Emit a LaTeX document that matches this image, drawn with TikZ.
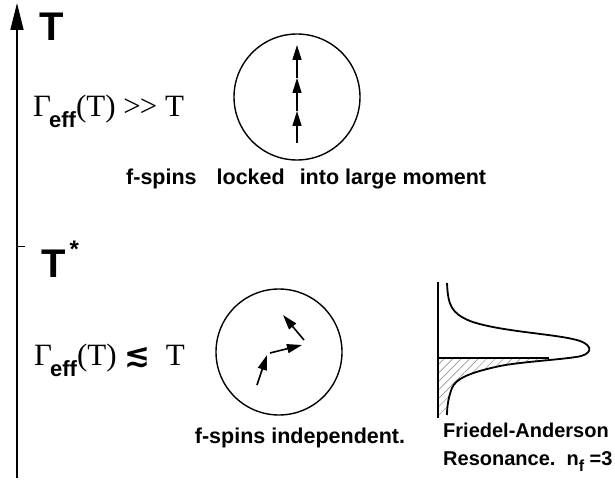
\documentclass[tikz,border=0pt]{standalone}
\usepackage{fontspec}
\setmainfont{Liberation Serif}
\setsansfont{Liberation Sans}
\newfontfamily\dejavu{DejaVu Sans}
\usepackage{tikz}
\usetikzlibrary{arrows.meta, patterns.meta, positioning}
\tikzstyle{taxis} = [line width=1.6pt, -{Triangle[length=27pt,width=13pt]}]
\tikzstyle{spin} = [line width=1.6pt, -{Triangle[length=15pt,width=9pt]}]
\tikzstyle{ball} = [circle, draw, line width=1.4pt, minimum size=126pt, inner sep=0pt]
\tikzstyle{spintext} = [font=\sffamily\bfseries\fontsize{21.5}{28}\selectfont, inner sep=0pt]
\tikzstyle{bigT} = [font=\sffamily\bfseries\fontsize{40}{44}\selectfont, inner sep=0pt]
\tikzstyle{gam} = [font=\rmfamily\fontsize{31}{34}\selectfont, inner sep=0pt]
\tikzstyle{dos} = [line width=1.8pt]
\newcommand\eff{\kern-2pt\raisebox{-11pt}{\sffamily\bfseries\fontsize{22}{24}\selectfont eff}}

\begin{document}
\begin{tikzpicture}[x=1pt, y=-1pt]
  \useasboundingbox (0,0) rectangle (615,489);

  \coordinate (axBot) at (17,478);
  \coordinate (axTop) at (17,3);
  \coordinate (tick) at (17,246);
  \draw[taxis] (axBot) -- (axTop);
  \draw[line width=1pt] (tick) -- ++(8,0);

  \node[bigT, anchor=base west] (tHigh) at (39,41) {T};
  \node[gam, anchor=base west] (gamHigh) at (33,117) {Γ\eff(T) {>}\kern-1pt{>} T};
  \node[ball] (ballHigh) at (297,97) {};
  \coordinate (s0) at (297,143);
  \coordinate (s1) at (297,111);
  \coordinate (s2) at (297,78);
  \coordinate (s3) at (297,45);
  \draw[spin] (s0) -- (s1);
  \draw[spin] (s1) -- (s2);
  \draw[spin] (s2) -- (s3);
  \node[spintext, anchor=base west] (lockTxt) at (126,185) {f-spins\hspace{20pt}locked\hspace{15pt}into large moment};

  \node[bigT, anchor=base west] (tStar) at (41,277) {T\hspace{4pt}\raisebox{20pt}{\fontsize{24}{24}\selectfont *}};
  \node[gam, anchor=base west] (gamLow) at (34,365) {Γ\eff(T) {\dejavu\bfseries ≲}\ \ T};
  \node[ball] (ballLow) at (279,352) {};
  \coordinate (a0) at (257,385);
  \coordinate (a1) at (267,355);
  \coordinate (b0) at (270,353);
  \coordinate (b1) at (302,345);
  \coordinate (c0) at (304,340);
  \coordinate (c1) at (283,315);
  \draw[spin] (a0) -- (a1);
  \draw[spin] (b0) -- (b1);
  \draw[spin] (c0) -- (c1);
  \node[spintext, anchor=base] (indepTxt) at (300,443) {f-spins independent.};

  \coordinate (dosTop) at (438,282);
  \coordinate (dosBot) at (438,418);
  \coordinate (fermiL) at (438,358);
  \coordinate (fermiR) at (549,358);
  \fill[pattern={Lines[angle=45,distance=6pt,line width=0.5pt]}, pattern color=gray]
    (fermiL) -- (552,359) .. controls (528,362) .. (500,366) .. controls (472,372) and (456,378) .. (452,388)
    .. controls (448,398) and (447,408) .. (447,415) -- (dosBot) -- cycle;
  \draw[dos] (dosBot) -- (dosTop);
  \draw[dos] (fermiL) -- (fermiR);
  \draw[dos] (447,283) .. controls (448,305) and (451,313) .. (470,321) .. controls (500,332) and (560,334) .. (580,341)
    .. controls (594,346) and (592,355) .. (576,357) .. controls (556,360) and (520,362) .. (500,366)
    .. controls (472,372) and (456,378) .. (452,388) .. controls (448,398) and (447,408) .. (447,415);
  \node[spintext, font=\sffamily\bfseries\fontsize{20}{28}\selectfont, anchor=base west, align=left] (resTxt) at (443,465) {Friedel-Anderson\\Resonance.\ \ n\raisebox{-6pt}{\fontsize{16}{16}\selectfont f} =3};
\end{tikzpicture}
\end{document}
